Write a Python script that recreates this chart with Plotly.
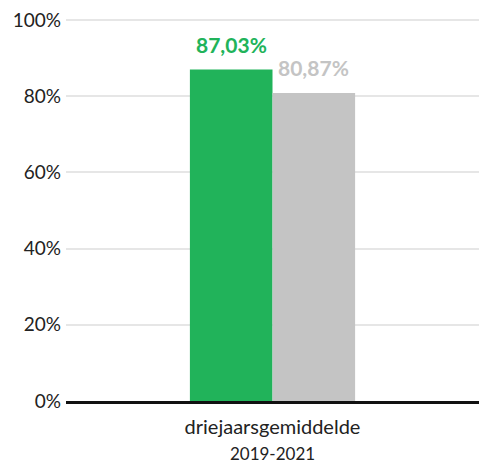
import plotly.graph_objects as go

categories = ["driejaarsgemiddelde<br><span style='font-size:17px'>2019-2021</span>"]
series_names = ["A", "B"]
values_a = [87.03]
values_b = [80.87]
labels_a = ["87,03%"]
labels_b = ["80,87%"]
tick_vals = [0, 20, 40, 60, 80, 100]
tick_text = ["0%", "20%", "40%", "60%", "80%", "100%"]

green = "#21b35a"
grey = "#c4c4c4"
font_family = "Lato, 'Open Sans', sans-serif"

fig = go.Figure()
fig.add_trace(go.Bar(x=categories, y=values_a, name=series_names[0], marker=dict(color=green, line=dict(width=0))))
fig.add_trace(go.Bar(x=categories, y=values_b, name=series_names[1], marker=dict(color=grey, line=dict(width=0))))

for vals, labs, col, shift in [(values_a, labels_a, green, -41), (values_b, labels_b, grey, 41)]:
    for c, v, t in zip(categories, vals, labs):
        fig.add_annotation(x=c, y=v, text=f"<b>{t}</b>", showarrow=False, xref="x", yref="y",
                           yanchor="bottom", xshift=shift, yshift=11,
                           font=dict(family=font_family, size=21, color=col))

fig.update_layout(
    width=479, height=464,
    margin=dict(l=66, r=0, t=19, b=60),
    plot_bgcolor="white", paper_bgcolor="white",
    barmode="group", bargap=0.6, bargroupgap=0,
    showlegend=False,
    font=dict(family=font_family, size=19, color="#222222"),
)
fig.update_yaxes(range=[0, 100.3], tickvals=tick_vals, ticktext=tick_text, showgrid=True,
                 gridcolor="#e6e6e6", gridwidth=1.5, zeroline=False, showline=False,
                 ticks="", ticklabelstandoff=4, ticklabeloverflow="allow",
                 tickfont=dict(size=19, color="#222222"))
fig.update_xaxes(showline=True, linecolor="#111111", linewidth=2.5, ticks="",
                 ticklabelstandoff=6, tickfont=dict(size=20, color="#222222"))

fig.write_html("out.html", config={"displayModeBar": False},
               post_script="document.body.style.margin='0px';")
